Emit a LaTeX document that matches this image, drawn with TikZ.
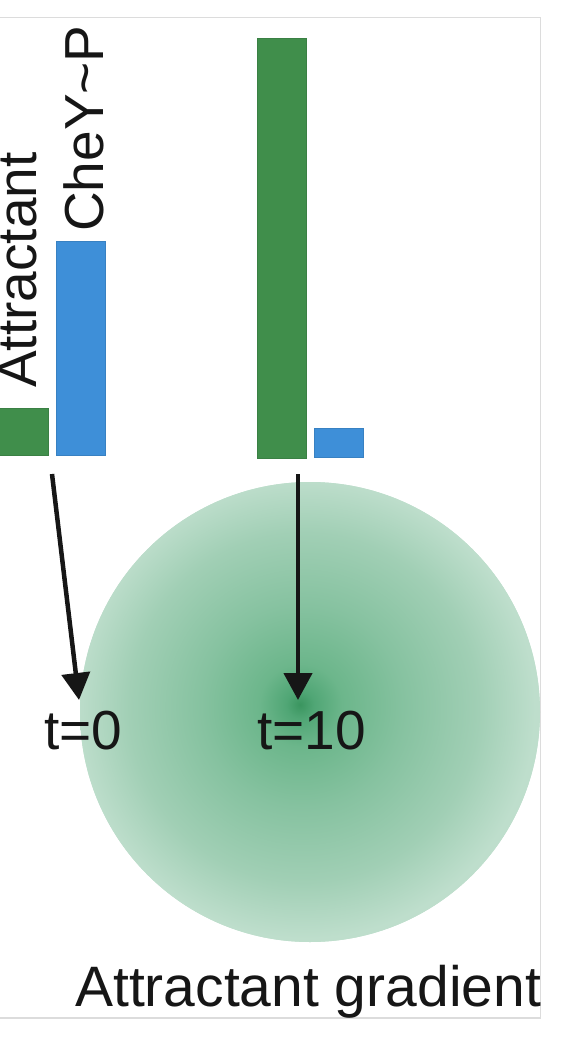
\documentclass[tikz,border=0pt]{standalone}
\usepackage{fontspec}
\setmainfont{Liberation Sans}
\usetikzlibrary{arrows.meta}

\definecolor{barGreen}{HTML}{408E4B}
\definecolor{barBlue}{HTML}{3E8FD8}
\definecolor{frameGray}{HTML}{DCDCDC}
\definecolor{inkBlack}{HTML}{161616}
\definecolor{gradA}{HTML}{3A955F}
\definecolor{gradB}{HTML}{50A675}
\definecolor{gradC}{HTML}{6CB68B}
\definecolor{gradD}{HTML}{86C2A0}
\definecolor{gradE}{HTML}{A1CFB5}
\definecolor{gradF}{HTML}{BEDECC}

\pgfdeclareradialshading{attgrad}{\pgfpoint{-1.1bp}{0.8bp}}{%
  color(0bp)=(gradA); color(1.5bp)=(gradB); color(4.5bp)=(gradC);
  color(11bp)=(gradD); color(19bp)=(gradE); color(25bp)=(gradF); color(50bp)=(gradF)}

\begin{document}
\begin{tikzpicture}[x=1pt,y=-1pt,
    bar/.style={line width=0.8pt, minimum width=49pt, anchor=south west, inner sep=0pt},
    lbl/.style={font=\fontsize{55}{60}\selectfont, text=inkBlack, inner sep=0pt},
    arr/.style={draw=inkBlack, line width=4.5pt, -{Triangle[length=27pt,width=28pt]}}]
      \useasboundingbox (0,0) rectangle (580,1056);
      \draw[frameGray, line width=1.5pt] (-10,17.5) rectangle (540.5,1018);

      % attractant disc
      \fill[gradF] (310,712) circle (230);
      \shade[shading=attgrad] (310,712) circle (230);

      % bars
      \node[bar, fill=barGreen, draw=barGreen!90!black, minimum width=50pt, minimum height=47pt] (att0) at (-2,456) {};
      \node[bar, fill=barBlue, draw=barBlue!90!black, minimum height=214pt] (chey0) at (55.5,456) {};
      \node[bar, fill=barGreen, draw=barGreen!90!black, minimum height=420pt] (att10) at (257,459) {};
      \node[bar, fill=barBlue, draw=barBlue!90!black, minimum height=29pt] (chey10) at (314,458) {};

      \node[lbl, rotate=90, anchor=base west] (attlbl) at (36,388) {Attractant};
      \node[lbl, rotate=90, anchor=base west] (cheylbl) at (103,232) {CheY\textasciitilde P};

      \node[lbl, anchor=base west] (t0) at (44,749) {t=0};
      \node[lbl, anchor=base west] (t10) at (257,749) {t=10};
      \node[lbl, font=\fontsize{57}{62}\selectfont, anchor=base west] (gradlbl) at (75,1006) {Attractant gradient};

      \coordinate (s0) at (52,474);
      \coordinate (e0) at (79,700);
      \coordinate (s10) at (298,474);
      \coordinate (e10) at (298,700);

      \draw [arr] (s0) -- (e0);
      \draw [arr] (s10) -- (e10);
    \end{tikzpicture}
\end{document}
